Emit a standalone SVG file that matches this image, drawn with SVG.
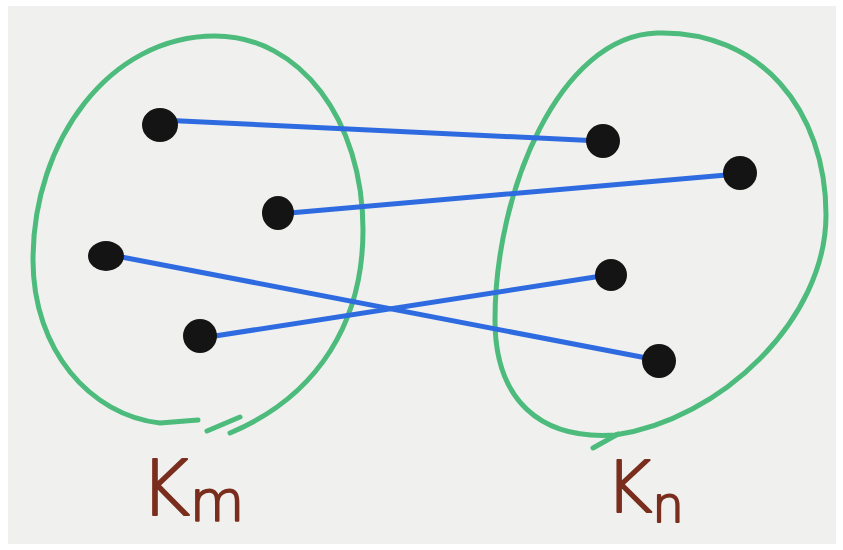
<svg xmlns="http://www.w3.org/2000/svg" width="843" height="550" viewBox="0 0 843 550">
<style>
.set{fill:none;stroke:#4dbb7c;stroke-width:5;stroke-linecap:round;stroke-linejoin:round}
.edge{stroke:#2f6be0;stroke-width:5;stroke-linecap:round}
.node{fill:#141414}
.lbl{font-family:"DejaVu Sans","Liberation Sans",sans-serif;font-weight:200;fill:#7a2e1e;stroke:#7a2e1e;stroke-width:2;stroke-linejoin:round}
</style>
<rect width="843" height="550" fill="#ffffff"/>
<rect x="8" y="6" width="828" height="538" fill="#f0f0ee"/>
<g id="set-Km">
<path class="set" d="M 230,433 C 320,395 363,320 363,230 C 363,120 300,36 215,36 C 110,36 33,140 33,260 C 33,350 90,415 160,423 L 198,420"/>
<path class="set" d="M 207,431 L 240,417" stroke-width="4"/>
</g>
<g id="set-Kn">
<path class="set" d="M 657,33 C 760,30 826,110 826,215 C 826,320 720,420 615,435 C 540,440 495,400 495,320 C 495,190 560,36 657,33 Z"/>
<path class="set" d="M 618,434 L 593,448" stroke-width="4"/>
</g>
<g id="connectors">
<line class="edge" x1="160" y1="120" x2="600" y2="141"/>
<line class="edge" x1="278" y1="214" x2="738" y2="174"/>
<line class="edge" x1="106" y1="254" x2="657" y2="360"/>
<line class="edge" x1="202" y1="338" x2="608" y2="275"/>
</g>
<g id="node-a1"><ellipse class="node" cx="160" cy="125" rx="18" ry="17"/></g>
<g id="node-a2"><ellipse class="node" cx="278" cy="213" rx="16" ry="17"/></g>
<g id="node-a3"><ellipse class="node" cx="106" cy="256" rx="18" ry="15"/></g>
<g id="node-a4"><ellipse class="node" cx="200" cy="336" rx="17" ry="17"/></g>
<g id="node-b1"><ellipse class="node" cx="603" cy="141" rx="17" ry="17"/></g>
<g id="node-b2"><ellipse class="node" cx="740" cy="173" rx="17" ry="17"/></g>
<g id="node-b3"><ellipse class="node" cx="611" cy="275" rx="16" ry="16"/></g>
<g id="node-b4"><ellipse class="node" cx="659" cy="361" rx="17" ry="17"/></g>
<g id="label-Km"><text class="lbl" x="140" y="515" font-size="76">K<tspan font-size="56" dy="5">m</tspan></text></g>
<g id="label-Kn"><text class="lbl" x="605" y="512" font-size="72">K<tspan font-size="50" dy="10">n</tspan></text></g>
</svg>
